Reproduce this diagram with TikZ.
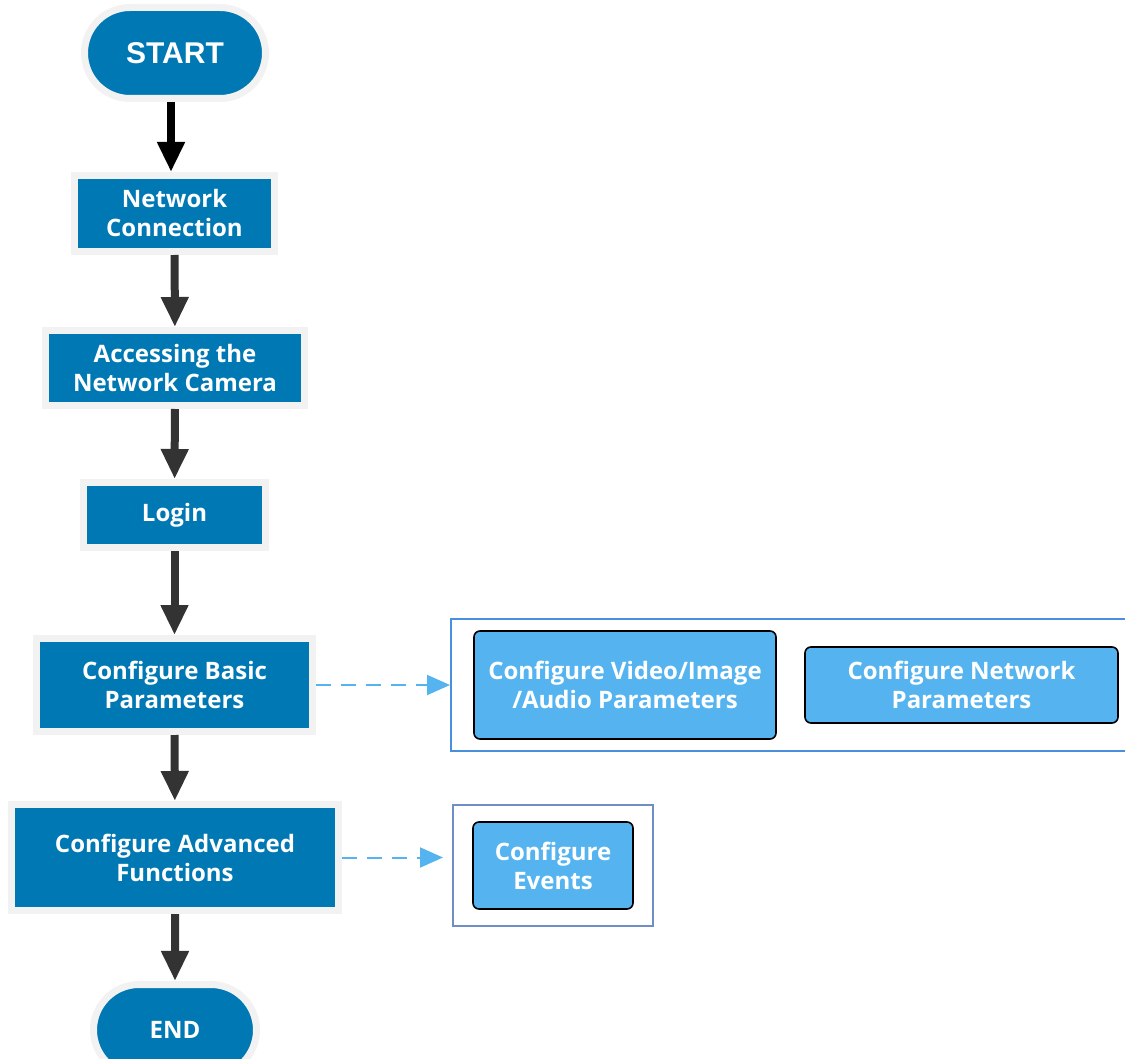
\documentclass[tikz,border=0pt]{standalone}
\usepackage{fontspec}
\setmainfont{Open Sans}
\newfontfamily\startfont{Liberation Sans}
\usetikzlibrary{arrows.meta,shapes.misc}
\definecolor{dblue}{HTML}{0078B4}
\definecolor{lblue}{HTML}{55B4F0}
\definecolor{halo}{HTML}{F2F2F2}
\definecolor{darr}{HTML}{333333}
\definecolor{grpA}{HTML}{4A8FDC}
\definecolor{grpB}{HTML}{6F8FC4}
\tikzset{
  mainbox/.style={rectangle, fill=dblue, draw=halo, line width=7pt, inner sep=0pt,
    text=white, align=center, font=\fontsize{24}{29}\selectfont\bfseries},
  termbox/.style={rounded rectangle, fill=dblue, draw=halo, line width=7pt, inner sep=0pt,
    text=white, align=center},
  subbox/.style={rectangle, rounded corners=6pt, fill=lblue, draw=black, line width=1.6pt,
    inner sep=0pt, text=white, align=center, font=\fontsize{24}{29}\selectfont\bfseries},
  grpbox/.style={rectangle, draw=#1, line width=2pt, fill=none, inner sep=0pt},
  flowarrow/.style={draw=#1, line width=8pt, -{Triangle[width=26pt,length=30pt]}},
  linkarrow/.style={draw=lblue, line width=2pt, dash pattern=on 15pt off 10pt,
    -{Triangle[width=20pt,length=23pt]}}
}
\begin{document}
\begin{tikzpicture}[x=1pt,y=-1pt]
\useasboundingbox (0,0) rectangle (1125,1059);
% main flow
\node[termbox, minimum width=181pt, minimum height=91pt,
  font=\startfont\fontsize{30}{34}\selectfont\bfseries] (start) at (175,53) {START};
\node[mainbox, minimum width=200pt, minimum height=76pt] (net) at (174.5,213.5) {Network\\Connection};
\node[mainbox, minimum width=259pt, minimum height=75pt] (acc) at (175,368) {Accessing the\\Network Camera};
\node[mainbox, minimum width=182pt, minimum height=65pt] (login) at (174.5,515) {Login};
\node[mainbox, minimum width=276pt, minimum height=93pt] (basic) at (174.5,685) {Configure Basic\\Parameters};
\node[mainbox, minimum width=327pt, minimum height=106pt] (adv) at (175,857.5) {Configure Advanced\\Functions};
\node[termbox, minimum width=163pt, minimum height=91pt,
  font=\fontsize{24}{29}\selectfont\bfseries] (end) at (175,1030) {END};
% groups
\node[grpbox=grpA, minimum width=690pt, minimum height=132pt] (grp1) at (796,685) {};
\node[subbox, minimum width=302pt, minimum height=108pt] (video) at (625,685) {Configure Video/Image\\/Audio Parameters};
\node[subbox, minimum width=313pt, minimum height=76pt] (netpar) at (961.5,685) {Configure Network\\Parameters};
\node[grpbox=grpB, minimum width=200pt, minimum height=121pt] (grp2) at (553,865.5) {};
\node[subbox, minimum width=160pt, minimum height=87pt] (events) at (553,865.5) {Configure\\Events};
% connectors
\draw[flowarrow=black] (start.south -| 171,0) -- (net.north -| 171,0);
\draw[flowarrow=darr] (net) -- (acc);
\draw[flowarrow=darr] (acc) -- (login);
\draw[flowarrow=darr] (login) -- (basic);
\draw[flowarrow=darr] (basic) -- (adv);
\draw[flowarrow=darr] (adv) -- (end);
\draw[linkarrow] (basic.east) -- (grp1.west);
\draw[linkarrow, shorten >=9pt] (adv.east) -- (adv.east -| grp2.west);
\end{tikzpicture}
\end{document}
